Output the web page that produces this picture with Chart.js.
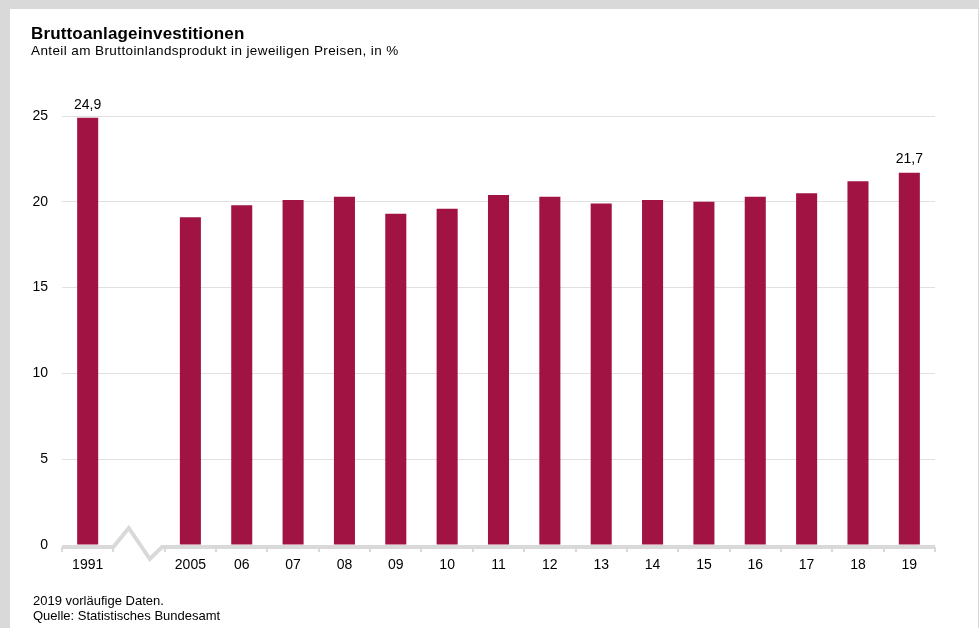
<!DOCTYPE html>
<html>
<head>
<meta charset="utf-8">
<script src="https://cdn.jsdelivr.net/npm/chart.js@4"></script>
<style>
  html, body { margin: 0; padding: 0; }
  body { width: 979px; height: 628px; background: #d9d9d9; position: relative; overflow: hidden; font-family: "Liberation Sans", Arial, sans-serif; color: #000; }
  #panel { position: absolute; left: 10px; top: 9px; width: 968px; height: 619px; background: #fff; }
  #chart-box { position: absolute; left: 0; top: 0; width: 979px; height: 628px; }
  .title { position: absolute; left: 31px; top: 24px; font-size: 17px; font-weight: bold; letter-spacing: 0.15px; }
  .subtitle { position: absolute; left: 31px; top: 43px; font-size: 13.5px; letter-spacing: 0.4px; }
  .note { position: absolute; left: 33px; font-size: 13px; }
</style>
</head>
<body>
<div id="panel"></div>
<div id="chart-box"><canvas id="myChart"></canvas></div>
<div class="title">Bruttoanlageinvestitionen</div>
<div class="subtitle">Anteil am Bruttoinlandsprodukt in jeweiligen Preisen, in %</div>
<div class="note" style="top:593px">2019 vorläufige Daten.</div>
<div class="note" style="top:608px">Quelle: Statistisches Bundesamt</div>
<script>
// Data (empty slot = axis break)
const years = ['1991', '', '2005', '06', '07', '08', '09', '10', '11', '12', '13', '14', '15', '16', '17', '18', '19'];
const shares = [24.9, null, 19.1, 19.8, 20.1, 20.3, 19.3, 19.6, 20.4, 20.3, 19.9, 20.1, 20.0, 20.3, 20.5, 21.2, 21.7];
const yTicks = [0, 5, 10, 15, 20, 25];
const labelledBars = [0, 16]; // bars that carry a value label
const breakSlot = years.indexOf('');

const barColor = '#a11342';
const axisGray = '#d9d9d9';
const fontFamily = '"Liberation Sans", Arial, sans-serif';

// value labels above selected bars
const valueLabels = {
    id: 'valueLabels',
    afterDatasetsDraw(chart) {
        const ctx = chart.ctx;
        const meta = chart.getDatasetMeta(0);
        ctx.save();
        ctx.font = '14px ' + fontFamily;
        ctx.fillStyle = '#000';
        ctx.textAlign = 'center';
        ctx.textBaseline = 'bottom';
        labelledBars.forEach(i => {
            const bar = meta.data[i];
            const text = shares[i].toFixed(1).replace('.', ',');
            ctx.fillText(text, bar.x, bar.y - 6);
        });
        ctx.restore();
    }
};

// thick baseline with category ticks and a zigzag break
const brokenAxis = {
    id: 'brokenAxis',
    afterDraw(chart) {
        const ctx = chart.ctx;
        const xs = chart.scales.x;
        const ys = chart.scales.y;
        const slot = xs.width / years.length;
        const y0 = ys.getPixelForValue(0) + 2;
        const bx = xs.getPixelForValue(breakSlot) - slot / 2;

        ctx.save();
        ctx.strokeStyle = axisGray;
        ctx.lineWidth = 4;
        ctx.lineJoin = 'miter';
        ctx.beginPath();
        ctx.moveTo(xs.left, y0);
        ctx.lineTo(bx, y0);
        ctx.lineTo(bx + slot * 0.30, y0 - 19);
        ctx.lineTo(bx + slot * 0.71, y0 + 12);
        ctx.lineTo(bx + slot * 0.95, y0);
        ctx.lineTo(xs.right, y0);
        ctx.stroke();

        // small ticks at the category boundaries
        ctx.lineWidth = 2;
        ctx.beginPath();
        for (let i = 0; i <= years.length; i++) {
            const x = Math.round(xs.left + slot * i);
            ctx.moveTo(x, y0);
            ctx.lineTo(x, y0 + 5);
        }
        ctx.stroke();
        ctx.restore();
    }
};

const ctx = document.getElementById('myChart').getContext('2d');
new Chart(ctx, {
    type: 'bar',
    data: {
        labels: years,
        datasets: [{
            data: shares,
            backgroundColor: barColor,
            borderWidth: 0,
            barPercentage: 0.41,
            categoryPercentage: 1
        }]
    },
    options: {
        responsive: true,
        maintainAspectRatio: false,
        animation: false,
        layout: { padding: { top: 116, right: 44, left: 0, bottom: 0 } },
        plugins: {
            legend: { display: false },
            tooltip: { enabled: false }
        },
        scales: {
            x: {
                grid: { display: false },
                border: { display: false },
                ticks: {
                    color: '#000',
                    font: { family: fontFamily, size: 14 },
                    padding: 4,
                    autoSkip: false,
                    maxRotation: 0
                },
                afterFit(scale) { scale.height = 83; }
            },
            y: {
                min: 0,
                max: 25,
                afterBuildTicks(scale) { scale.ticks = yTicks.map(v => ({ value: v })); },
                grid: {
                    drawTicks: false,
                    color: c => (c.tick && c.tick.value === 0) ? 'rgba(0,0,0,0)' : '#e0e0e0',
                    lineWidth: 1
                },
                border: { display: false },
                ticks: {
                    color: '#000',
                    font: { family: fontFamily, size: 14 },
                    padding: 14
                },
                afterFit(scale) { scale.width = 62; }
            }
        }
    },
    plugins: [valueLabels, brokenAxis]
});
</script>
</body>
</html>
